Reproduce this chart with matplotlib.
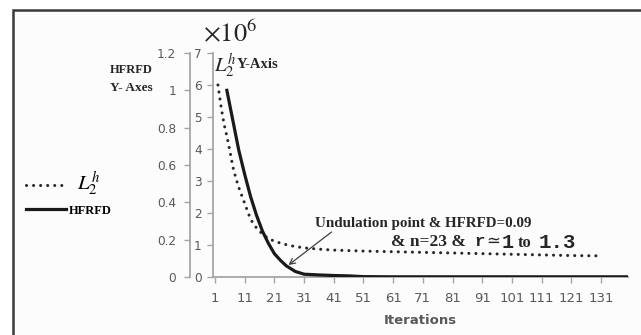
import matplotlib
matplotlib.use("Agg")
import matplotlib.pyplot as plt
from matplotlib.patches import Rectangle

plt.rcParams['mathtext.fontset'] = 'stix'

# HFRFD (left scale)
iters_hfrfd = [5, 7, 9, 11, 13, 15, 17, 19, 21, 23, 25, 28, 31, 36, 41, 46, 51, 60, 80, 100, 120, 140]
hfrfd = [1.00, 0.84, 0.68, 0.55, 0.43, 0.33, 0.245, 0.18, 0.125, 0.09, 0.06, 0.03,
         0.015, 0.011, 0.008, 0.006, 0.002, 0.001, 0.001, 0.001, 0.001, 0.001]

# L2^h in units of 10^6 (second scale)
iters_l2h = [2, 3, 4, 5, 6, 7, 8, 9, 10, 11, 13, 15, 17, 19, 21, 23, 25, 27, 31, 36,
             41, 51, 61, 71, 81, 91, 101, 111, 121, 131]
l2h = [6.0, 5.35, 4.8, 4.4, 3.95, 3.45, 3.1, 2.8, 2.55, 2.3, 1.8, 1.53, 1.34, 1.2, 1.12,
       1.06, 1.01, 0.97, 0.91, 0.87, 0.84, 0.81, 0.79, 0.77, 0.75, 0.73, 0.71, 0.69, 0.67, 0.66]

x_ticks = list(range(1, 132, 10))
hfrfd_ticks = [0, 0.2, 0.4, 0.6, 0.8, 1.0, 1.2]
hfrfd_labels = ['0', '0.2', '0.4', '0.6', '0.8', '1', '1.2']
l2h_ticks = [0, 1, 2, 3, 4, 5, 6, 7]

W, H = 641, 335


def fx(px):
    return px / W


def fy(py):
    return 1 - py / H


axis_grey = '#a6a6a6'
label_grey = '#595959'
serif_bold = dict(family=['Liberation Serif', 'DejaVu Serif'], weight='bold', color='#262626')
mono_bold = dict(family=['Liberation Mono', 'DejaVu Sans Mono'], weight='bold', color='#262626')

fig = plt.figure(figsize=(W / 100, H / 100), dpi=100)
fig.patches.append(Rectangle((fx(13), -0.1), 1.2, fy(10) + 0.1, transform=fig.transFigure,
                             fc='#fcfcfc', ec='#3a3a3a', lw=1.8, zorder=-10))

ax = fig.add_axes([fx(213), fy(277), fx(628) - fx(213), fy(53) - fy(277)])
ax.patch.set_visible(False)
ax2 = ax.twinx()

l2h_line, = ax.plot(iters_l2h, l2h, color='#262626', lw=2.2,
                    linestyle=(0, (0.01, 2.3)), dash_capstyle='round')
hf_line, = ax2.plot(iters_hfrfd, hfrfd, color='#1a1a1a', lw=2.3)

ax.set_xlim(0.33, 140.1)
ax.set_ylim(0, 7)
ax2.set_ylim(0, 1.2)

ax.set_xticks(x_ticks)
ax.set_yticks(l2h_ticks)
ax2.set_yticks(hfrfd_ticks)
ax2.set_yticklabels(hfrfd_labels)

for s in ['top', 'right']:
    ax.spines[s].set_visible(False)
for s in ['top', 'right', 'bottom']:
    ax2.spines[s].set_visible(False)
ax2.spines['left'].set_visible(True)
ax2.spines['left'].set_position(('outward', 23 * 0.72))
ax2.yaxis.set_ticks_position('left')
ax2.yaxis.set_label_position('left')

for a in (ax, ax2):
    for s in a.spines.values():
        s.set_color(axis_grey)
        s.set_linewidth(1.3)
ax.tick_params(axis='both', direction='out', length=4, width=1, color=axis_grey,
               labelcolor=label_grey)
ax.tick_params(axis='x', labelsize=9.5, pad=7)
ax.tick_params(axis='y', labelsize=8.7, pad=4)
ax2.tick_params(axis='y', direction='out', length=4, width=1, color=axis_grey,
                labelcolor=label_grey, labelsize=8.7, pad=6)

ax.set_xlabel('Iterations', fontsize=9.5, fontweight='bold', color=label_grey, labelpad=6)

# axis titles
fig.text(fx(203), fy(34), r'$\times10^6$', fontsize=19, ha='left', va='center', color='#262626')
fig.text(fx(214), fy(66), r'$L_2^h$', fontsize=15, ha='left', va='center', color='#262626')
fig.text(fx(237), fy(65), 'Y-Axis', fontsize=10.5, ha='left', va='center', **serif_bold)
fig.text(fx(110), fy(70), 'HFRFD', fontsize=9, ha='left', va='center', **serif_bold)
fig.text(fx(110), fy(88), 'Y- Axes', fontsize=9.5, ha='left', va='center', **serif_bold)

# annotation
ax2.annotate('', xy=(25, 0.055), xytext=(41, 0.25),
             arrowprops=dict(arrowstyle='->', color='#404040', lw=0.9))
fig.text(fx(315), fy(223), 'Undulation point & HFRFD=0.09', fontsize=10.8, ha='left',
         va='center', **serif_bold)
fig.text(fx(391), fy(242), '& n=23 &', fontsize=12.5, ha='left', va='center', **serif_bold)
fig.text(fx(474), fy(242), 'r', fontsize=12.5, ha='left', va='center', **mono_bold)
fig.text(fx(486), fy(241), '\u2243', fontsize=12, ha='left', va='center',
         family='DejaVu Sans', color='#262626')
fig.text(fx(502), fy(242), '1', fontsize=14.5, ha='left', va='center', **mono_bold)
fig.text(fx(518), fy(243), 'to', fontsize=12, ha='left', va='center', **serif_bold)
fig.text(fx(539), fy(242), '1.3', fontsize=15, ha='left', va='center', **mono_bold)

# legend
leg = fig.legend(handles=[l2h_line, hf_line], labels=[r'$\;\;L_2^h$', 'HFRFD'],
                 loc='upper left', bbox_to_anchor=(fx(13), fy(157)), frameon=False,
                 fontsize=10, handlelength=2.9, handletextpad=0.25, labelspacing=0.45)
leg.get_texts()[0].set_fontsize(15)
leg.get_texts()[1].set_fontsize(9)
leg.get_texts()[1].set_fontfamily(['Liberation Serif', 'DejaVu Serif'])
leg.get_texts()[1].set_fontweight('bold')

fig.savefig('out.png', dpi=100)
